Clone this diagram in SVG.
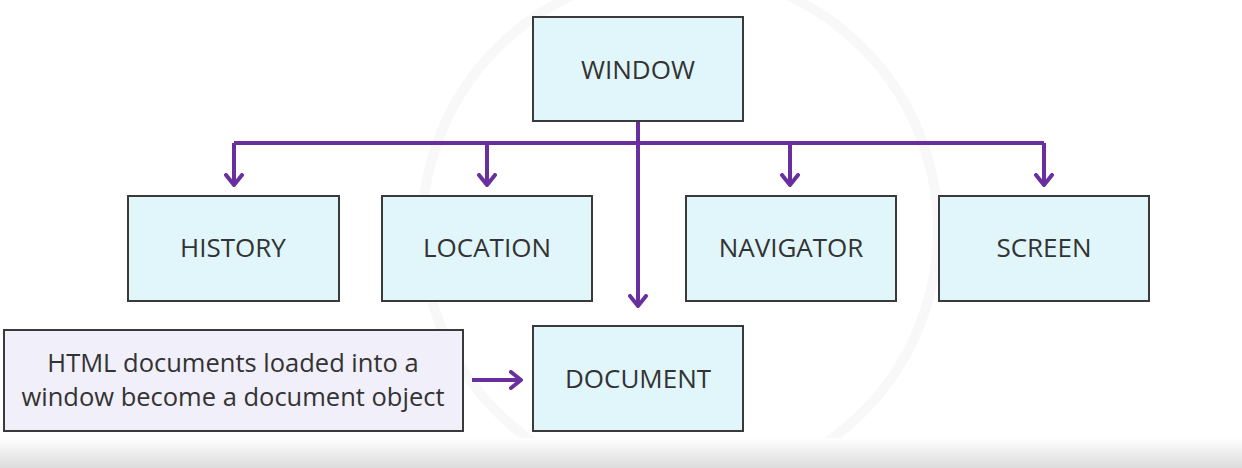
<svg xmlns="http://www.w3.org/2000/svg" width="1242" height="468" viewBox="0 0 1242 468">
<defs>
<style>
.node rect{fill:#e1f6fa;stroke:#3a3a3a;stroke-width:2}
.note rect{fill:#f1eff9;stroke:#3a3a3a;stroke-width:2}
text{font-family:"Open Sans","Noto Sans",sans-serif;font-size:26px;fill:#333;text-anchor:middle}
.note text{font-size:25.5px}
.conn{stroke:#6a2f9e;stroke-width:4;fill:none}
</style>
<marker id="ah" viewBox="0 0 14 20" refX="12" refY="10" markerWidth="14" markerHeight="20" markerUnits="userSpaceOnUse" orient="auto">
<path d="M2,2 L12,10 L2,18" fill="none" stroke="#6a2f9e" stroke-width="4" stroke-linejoin="round" stroke-linecap="round"/>
</marker>
<linearGradient id="bot" x1="0" y1="0" x2="0" y2="1">
<stop offset="0" stop-color="#ffffff"/>
<stop offset="1" stop-color="#dcdcdc"/>
</linearGradient>
</defs>
<rect width="1242" height="468" fill="#ffffff"/>
<circle cx="680" cy="230" r="258" fill="none" stroke="#f8f8f8" stroke-width="10"/>
<rect x="0" y="438" width="1242" height="30" fill="url(#bot)"/>
<g id="connectors">
<path class="conn" d="M638,121 V143"/>
<path class="conn" d="M234,143 H1044"/>
<path class="conn" d="M234,143 V185" marker-end="url(#ah)"/>
<path class="conn" d="M487,143 V185" marker-end="url(#ah)"/>
<path class="conn" d="M790,143 V185" marker-end="url(#ah)"/>
<path class="conn" d="M1044,143 V185" marker-end="url(#ah)"/>
<path class="conn" d="M638,143 V306" marker-end="url(#ah)"/>
<path class="conn" d="M472,380 H521" marker-end="url(#ah)"/>
</g>
<g id="window" class="node"><rect x="533" y="17" width="210" height="104"/><text x="638" y="79">WINDOW</text></g>
<g id="history" class="node"><rect x="128" y="196" width="211" height="105"/><text x="233" y="257">HISTORY</text></g>
<g id="location" class="node"><rect x="382" y="196" width="210" height="105"/><text x="487" y="257">LOCATION</text></g>
<g id="navigator" class="node"><rect x="686" y="196" width="210" height="105"/><text x="791" y="257">NAVIGATOR</text></g>
<g id="screen" class="node"><rect x="939" y="196" width="210" height="105"/><text x="1044" y="257">SCREEN</text></g>
<g id="document" class="node"><rect x="533" y="326" width="210" height="105"/><text x="638" y="388">DOCUMENT</text></g>
<g id="note" class="note"><rect x="4" y="330" width="459" height="101"/><text x="233" y="372">HTML documents loaded into a</text><text x="233" y="406">window become a document object</text></g>
</svg>
